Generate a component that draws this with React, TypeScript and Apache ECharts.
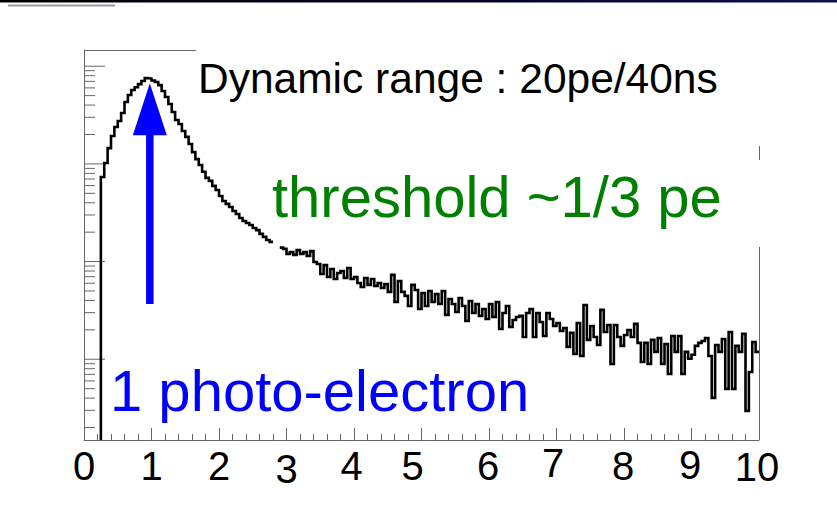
import React, { useEffect, useRef } from "react";
import * as echarts from "echarts";

// Histogram: bins of width 0.05 starting at 0.25 (x in photo-electrons)
const BIN_START = 0.25;
const BIN_WIDTH = 0.05;
const counts: (number | null)[] = [
  735, 1020, 1450, 1930, 2390, 2750, 3320, 4300, 5070, 5700,
  6100, 6550, 7050, 7550, 7480, 7150, 6900, 6400, 5580, 4840,
  4110, 3400, 2810, 2560, 2170, 1890, 1600, 1320, 1120, 975,
  830, 720, 670, 595, 540, 470, 417, 390, 362, 330,
  307, 279, 260, 248, 237, 221, 210, 192, 179, 166,
  159, null, null, 139, 135, 120, 125, 117, 131, 120,
  125, 114, 128, 99, 94.5, 74.5, 92, 69.5, 84, 66.3,
  76.5, 80, 68, 86, 66.3, 69.5, 60.3, 55, 68, 57.7,
  66.3, 56.3, 60.3, 53.7, 59, 48.9, 73, 38.6, 63.3, 48.9,
  44.5, 35.1, 57.7, 51.2, 32.7, 47.7, 35.1, 50, 38.6, 46.6,
  36.8, 50, 28.4, 41.4, 36.8, 30.5, 42.4, 35.1, 24.7, 39.5,
  29.8, 36.8, 27.8, 32.7, 25.8, 36.8, 27.1, 38.6, 20.4, 29.8,
  35.1, 21.4, 25.2, 27.1, 27.8, 16.9, 29.8, 32.7, 16.9, 29.8,
  24.1, 17.3, 29.8, 25.8, 21.9, 23.5, 19.5, 20.9, 13.4, 18.6,
  11.3, 23.5, 10.8, 35.9, 15.8, 21.9, 16.9, 14.0, 32.0, 19.0,
  22.4, 8.95, 22.4, 16.9, 13.7, 17.7, 19.9, 16.9, 23.0, 14.7,
  9.37, 14.7, 8.95, 15.8, 11.9, 16.5, 8.95, 14.3, 7.07, 17.3,
  11.9, 17.3, 7.07, 11.9, 10.1, 11.1, 13.7, 14.7, 15.4, 16.5,
  10.8, 4.02, 14.0, 11.9, 16.1, 4.97, 19.0, 4.97, 13.7, 11.9,
  18.2, 2.96, 7.4, 15.0, 11.9,
];

// Axis ranges
const X_MIN = 0;
const X_MAX = 10;
const Y_MIN = 1.49;
const Y_MAX = 14660;

// x tick labels
const xTickLabels = ["0", "1", "2", "3", "4", "5", "6", "7", "8", "9", "10"];

// y log ticks (no labels in the original)
const yDecades = [1, 10, 100, 1000, 10000];
const yMinorMultipliers = [2, 3, 4, 5, 6, 7, 8, 9];

// Arrow annotation: at x, from count to count
const arrowX = 0.975;
const arrowFrom = 36.8;
const arrowTo = 6700;

const titleText = "Dynamic range : 20pe/40ns";
const thresholdText = "threshold ~1/3 pe";
const peText = "1 photo-electron";

const FONT = '"Liberation Sans", Arial, sans-serif';
const AXIS_GRAY = "#666";

// per-label placement nudges (right padding shifts left, top padding shifts down)
const labelNudge: Record<string, [number, number]> = {
  "0": [3, 0], "1": [3, 0], "2": [3, 0], "3": [6, 0], "4": [3, 5], "5": [3, 18],
  "6": [3, 2], "7": [0, 7], "8": [3, 2], "9": [2, 3], "10": [4, 4],
};

export default function App() {
  const ref = useRef<HTMLDivElement>(null);

  useEffect(() => {
    if (!ref.current) return;
    const chart = echarts.init(ref.current, undefined, { renderer: "svg" });

    // Build histogram outline from bins
    const histLine: any[] = [[BIN_START, Y_MIN]];
    counts.forEach((c, i) => {
      const x0 = BIN_START + i * BIN_WIDTH;
      const x1 = x0 + BIN_WIDTH;
      if (c == null) {
        histLine.push([x0 + BIN_WIDTH / 2, null]);
      } else {
        histLine.push([x0, c], [x1, c]);
      }
    });

    const yTicks: any[] = [];
    yDecades.forEach((d) => {
      if (d >= Y_MIN && d <= Y_MAX) yTicks.push([X_MIN, d, 1]);
      yMinorMultipliers.forEach((m) => {
        const v = d * m;
        if (v >= Y_MIN && v <= Y_MAX) yTicks.push([X_MIN, v, 0]);
      });
    });

    const rich: Record<string, any> = {};
    xTickLabels.forEach((s, i) => {
      const [top, right] = labelNudge[s] || [3, 0];
      rich["n" + i] = { fontSize: 40, fontFamily: FONT, color: "#000", padding: [top, right, 0, 0] };
    });

    chart.setOption({
      animation: false,
      backgroundColor: "#fff",
      grid: { left: 84, right: 78, top: 50, bottom: 67, containLabel: false },
      xAxis: {
        type: "value",
        min: X_MIN,
        max: X_MAX,
        interval: 1,
        axisLine: { show: true, onZero: false, lineStyle: { color: AXIS_GRAY, width: 1 } },
        axisTick: { show: true, inside: true, length: 12, lineStyle: { color: AXIS_GRAY } },
        minorTick: { show: true, splitNumber: 5, length: 6, lineStyle: { color: AXIS_GRAY } },
        splitLine: { show: false },
        minorSplitLine: { show: false },
        axisLabel: {
          margin: 3,
          color: "#000",
          fontSize: 40,
          fontFamily: FONT,
          formatter: (v: number) => {
            const i = Math.round(v);
            return `{n${i}|${xTickLabels[i] ?? String(v)}}`;
          },
          rich,
        },
      },
      yAxis: {
        type: "log",
        logBase: 10,
        min: Y_MIN,
        max: Y_MAX,
        axisLine: { show: true, lineStyle: { color: AXIS_GRAY, width: 1 } },
        axisTick: { show: false },
        axisLabel: { show: false },
        splitLine: { show: false },
      },
      series: [
        {
          type: "custom",
          name: "yticks",
          silent: true,
          clip: false,
          data: yTicks,
          renderItem: (_p: any, api: any) => {
            const pt = api.coord([api.value(0), api.value(1)]);
            const len = api.value(2) ? 21 : 11;
            return {
              type: "line",
              shape: { x1: pt[0], y1: pt[1], x2: pt[0] + len, y2: pt[1] },
              style: { stroke: AXIS_GRAY, lineWidth: 1 },
            };
          },
        },
        {
          type: "line",
          name: "hist",
          data: histLine,
          showSymbol: false,
          symbol: "none",
          connectNulls: false,
          lineStyle: { color: "#000", width: 2.6, join: "miter" },
          silent: true,
          clip: true,
        },
        {
          type: "custom",
          name: "arrow",
          silent: true,
          clip: false,
          data: [[arrowX, arrowFrom, arrowTo]],
          renderItem: (_p: any, api: any) => {
            const tail = api.coord([api.value(0), api.value(1)]);
            const tip = api.coord([api.value(0), api.value(2)]);
            const headLen = 52;
            const headHalf = 17;
            const shaftHalf = 3.75;
            const baseY = tip[1] + headLen;
            return {
              type: "group",
              children: [
                {
                  type: "rect",
                  shape: { x: tail[0] - shaftHalf, y: baseY - 1, width: shaftHalf * 2, height: tail[1] - baseY + 1 },
                  style: { fill: "#0000ff" },
                },
                {
                  type: "polygon",
                  shape: { points: [[tip[0], tip[1]], [tip[0] + headHalf, baseY], [tip[0] - headHalf, baseY]] },
                  style: { fill: "#0000ff" },
                },
              ],
            };
          },
        },
      ],
      graphic: [
        {
          type: "rect",
          left: 0,
          top: 0,
          shape: { width: 837, height: 2.5 },
          style: {
            fill: new echarts.graphic.LinearGradient(0, 0, 1, 0, [
              { offset: 0, color: "#000000" },
              { offset: 0.6, color: "#05052a" },
              { offset: 1, color: "#101050" },
            ]),
          },
          silent: true,
        },
        {
          type: "line",
          shape: { x1: 8, y1: 5.5, x2: 115, y2: 5.5 },
          style: { stroke: "#999", lineWidth: 2 },
          silent: true,
        },
        {
          type: "line",
          shape: { x1: 84, y1: 50.5, x2: 196, y2: 50.5 },
          style: { stroke: AXIS_GRAY, lineWidth: 1 },
          silent: true,
        },
        {
          type: "line",
          shape: { x1: 759.5, y1: 146, x2: 759.5, y2: 160 },
          style: { stroke: AXIS_GRAY, lineWidth: 1 },
          silent: true,
        },
        {
          type: "line",
          shape: { x1: 759.5, y1: 247, x2: 759.5, y2: 440 },
          style: { stroke: AXIS_GRAY, lineWidth: 1 },
          silent: true,
        },
        {
          type: "text",
          x: 198,
          y: 78.5,
          style: {
            text: titleText,
            fill: "#000",
            fontSize: 42.5,
            fontFamily: FONT,
            align: "left",
            verticalAlign: "middle",
          },
          silent: true,
        },
        {
          type: "text",
          x: 272,
          y: 196,
          style: {
            text: thresholdText,
            fill: "#008000",
            fontSize: 58,
            fontFamily: FONT,
            align: "left",
            verticalAlign: "middle",
          },
          silent: true,
        },
        {
          type: "text",
          x: 110,
          y: 390,
          style: {
            text: peText,
            fill: "#0000ff",
            fontSize: 58,
            fontFamily: FONT,
            align: "left",
            verticalAlign: "middle",
          },
          silent: true,
        },
      ],
    });

    return () => chart.dispose();
  }, []);

  return (
    <div
      ref={ref}
      style={{ position: "fixed", left: 0, top: 0, width: 837, height: 507, background: "#fff" }}
    />
  );
}
